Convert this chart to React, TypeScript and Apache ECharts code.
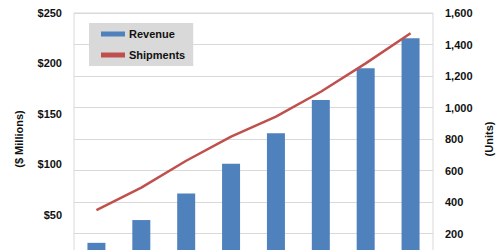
import React, { useEffect, useRef } from "react";
import * as echarts from "echarts";

const categories = ["1", "2", "3", "4", "5", "6", "7", "8"];
const revenue = [22, 44.6, 71, 100.5, 130.6, 163.7, 195.1, 224.9];
const shipments = [349, 491, 662, 815, 942, 1100, 1280, 1471];
const revenueTicks = [0, 50, 100, 150, 200, 250];
const unitTicks = [0, 200, 400, 600, 800, 1000, 1200, 1400, 1600];

const FONT = "'Liberation Sans', Arial, sans-serif";

export default function App() {
  const ref = useRef<HTMLDivElement>(null);
  useEffect(() => {
    if (!ref.current) return;
    const chart = echarts.init(ref.current, undefined, { renderer: "svg" });
    chart.setOption({
      animation: false,
      backgroundColor: "#ffffff",
      textStyle: { fontFamily: FONT },
      grid: {
        left: 74,
        top: 13,
        width: 359,
        height: 252,
        containLabel: false,
        outerBoundsMode: "none",
        show: true,
        borderColor: "#D9D9D9",
        borderWidth: 1,
        backgroundColor: "transparent",
      },
      legend: {
        orient: "vertical",
        left: 89,
        top: 23,
        backgroundColor: "#D9D9D9",
        padding: [4, 8, 4, 12],
        itemGap: 7,
        itemWidth: 24,
        itemHeight: 5,
        textStyle: {
          fontFamily: FONT,
          fontSize: 11,
          fontWeight: "bold",
          color: "#111",
          lineHeight: 14,
          padding: [0, 0, 0, -1],
        },
        data: [
          { name: "Revenue", icon: "rect" },
          { name: "Shipments", icon: "rect", itemStyle: { color: "#C0504D" } },
        ],
      },
      xAxis: {
        type: "category",
        data: categories,
        axisLine: { show: false },
        axisTick: { show: false },
        axisLabel: { show: false },
        splitLine: { show: false },
      },
      yAxis: [
        {
          type: "value",
          position: "left",
          min: revenueTicks[0],
          max: revenueTicks[revenueTicks.length - 1],
          interval: 50,
          name: "($ Millions)",
          nameLocation: "middle",
          nameRotate: 90,
          nameGap: 50,
          nameTextStyle: { fontFamily: FONT, fontSize: 11, fontWeight: "bold", color: "#111" },
          axisLine: { show: false },
          axisTick: { show: false },
          splitLine: { show: false },
          axisLabel: {
            margin: 12,
            showMinLabel: false,
            fontFamily: FONT,
            fontSize: 11,
            fontWeight: "bold",
            color: "#111",
            formatter: (v: number) => "$" + v,
          },
        },
        {
          type: "value",
          position: "right",
          min: unitTicks[0],
          max: unitTicks[unitTicks.length - 1],
          interval: 200,
          name: "(Units)",
          nameLocation: "middle",
          nameRotate: 90,
          nameGap: 39,
          nameTextStyle: { fontFamily: FONT, fontSize: 11, fontWeight: "bold", color: "#111" },
          axisLine: { show: false },
          axisTick: { show: false },
          splitLine: { show: true, lineStyle: { color: "#D9D9D9", width: 1 } },
          axisLabel: {
            margin: 12,
            showMinLabel: false,
            fontFamily: FONT,
            fontSize: 11,
            fontWeight: "bold",
            color: "#111",
            formatter: (v: number) => v.toLocaleString("en-US"),
          },
        },
      ],
      series: [
        {
          name: "Revenue",
          type: "bar",
          yAxisIndex: 0,
          data: revenue,
          barWidth: 18,
          itemStyle: { color: "#4F81BD" },
        },
        {
          name: "Shipments",
          type: "line",
          yAxisIndex: 1,
          data: shipments,
          symbol: "none",
          lineStyle: { color: "#C0504D", width: 2.5 },
          itemStyle: { color: "#C0504D" },
        },
      ],
    });
    return () => chart.dispose();
  }, []);
  return (
    <div
      ref={ref}
      style={{ position: "fixed", left: 0, top: 0, width: 500, height: 250 }}
    />
  );
}
